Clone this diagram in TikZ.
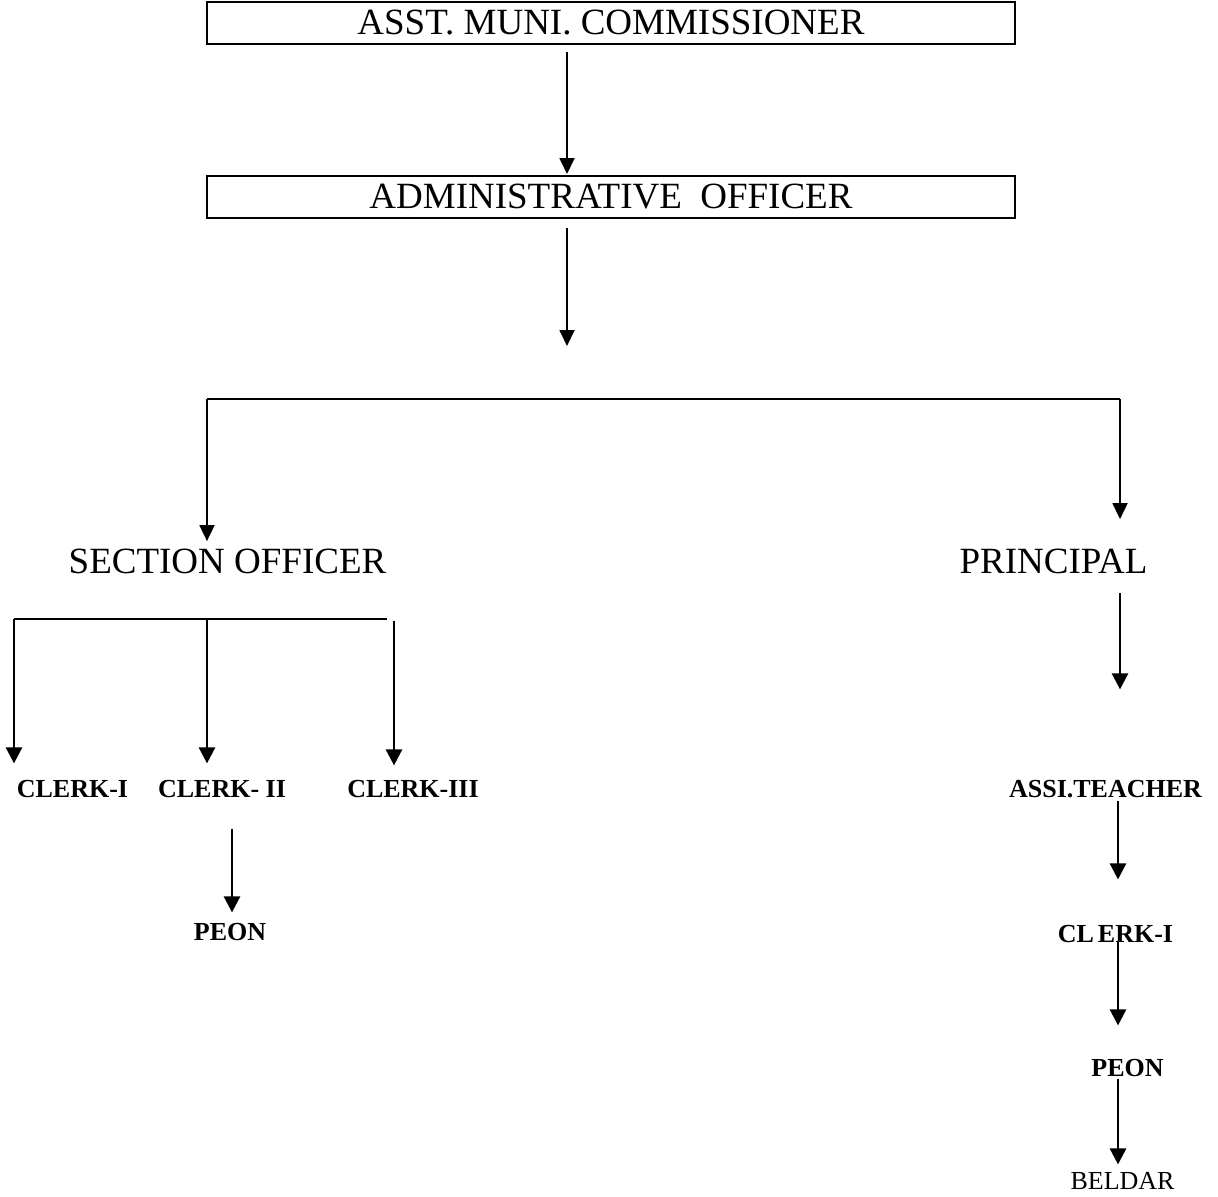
\documentclass[tikz,border=0pt]{standalone}
\usepackage{fontspec}
\setmainfont{Liberation Serif}
\usetikzlibrary{arrows.meta}
\begin{document}
\begin{tikzpicture}[x=0.5pt,y=-0.5pt,
  arr/.style={-{Triangle[length=8pt,width=7.5pt]},line width=0.9pt},
  arrb/.style={-{Triangle[length=8pt,width=8pt]},line width=1.3pt},
  ln/.style={line width=0.9pt},
  boxn/.style={draw,line width=0.9pt,minimum width=404pt,minimum height=21pt,inner sep=0pt,font=\fontsize{18.5}{22}\selectfont},
  big/.style={anchor=base,inner sep=0pt,font=\fontsize{18.5}{22}\selectfont},
  sm/.style={anchor=base,inner sep=0pt,font=\fontsize{13}{15}\selectfont\bfseries},
  smr/.style={anchor=base,inner sep=0pt,font=\fontsize{13}{15}\selectfont}]
\useasboundingbox (0,0) rectangle (1218,1196);

% boxes
\node[boxn] (amc) at (611,23) {ASST. MUNI. COMMISSIONER};
\node[boxn] (ao) at (611,197) {ADMINISTRATIVE\ \ OFFICER};

% text nodes
\node[big] (so) at (227.5,573) {SECTION OFFICER};
\node[big] (pr) at (1053.5,573) {PRINCIPAL};
\node[sm] (c1) at (72.5,797) {CLERK-I};
\node[sm] (c2) at (222,797) {CLERK- II};
\node[sm] (c3) at (413,797) {CLERK-III};
\node[sm] (pl) at (230,940) {PEON};
\node[sm] (at) at (1105.5,797) {ASSI.TEACHER};
\node[sm] (ck) at (1115.5,942) {CL\kern2pt ERK-I};
\node[sm] (pr2) at (1127.5,1076) {PEON};
\node[smr] (bd) at (1122.5,1189) {BELDAR};

% coordinates
\coordinate (a1s) at (567,52);
\coordinate (a1e) at (567,174);
\coordinate (a2s) at (567,228);
\coordinate (a2e) at (567,346);
\coordinate (bl) at (207,399);
\coordinate (br) at (1120,399);
\coordinate (kl) at (14,619);
\coordinate (km) at (207,619);
\coordinate (kr) at (387,619);
\coordinate (kr2) at (394,621);

% top arrows
\draw[arr] (a1s) -- (a1e);
\draw[arr] (a2s) -- (a2e);

% main branch
\draw[ln] (bl) -- (br);
\draw[arr,shorten >=3.5pt] (bl) -- (bl |- so.north);
\draw[arr,shorten >=14.5pt] (br) -- (br |- pr.north);

% clerk branch
\draw[ln] (kl) -- (kr);
\draw[arrb,shorten >=8pt] (kl) -- (kl |- c1.north);
\draw[arrb,shorten >=8pt] (km) -- (km |- c2.north);
\draw[arrb,shorten >=7pt] (kr2) -- (kr2 |- c3.north);
\draw[arrb,shorten <=15.5pt,shorten >=5pt] (c2.south -| 232,0) -- (pl.north -| 232,0);

% principal chain
\draw[arrb,shorten <=9.5pt,shorten >=45pt] (pr.south -| 1120,0) -- (at.north -| 1120,0);
\draw[arrb,shorten <=1.5pt,shorten >=22.5pt] (at.south -| 1118,0) -- (ck.north -| 1118,0);
\draw[arrb,shorten <=-1pt,shorten >=16.5pt] (ck.south -| 1118,0) -- (pr2.north -| 1118,0);
\draw[arrb,shorten <=1pt,shorten >=3.5pt] (pr2.south -| 1118,0) -- (bd.north -| 1118,0);
\end{tikzpicture}
\end{document}
